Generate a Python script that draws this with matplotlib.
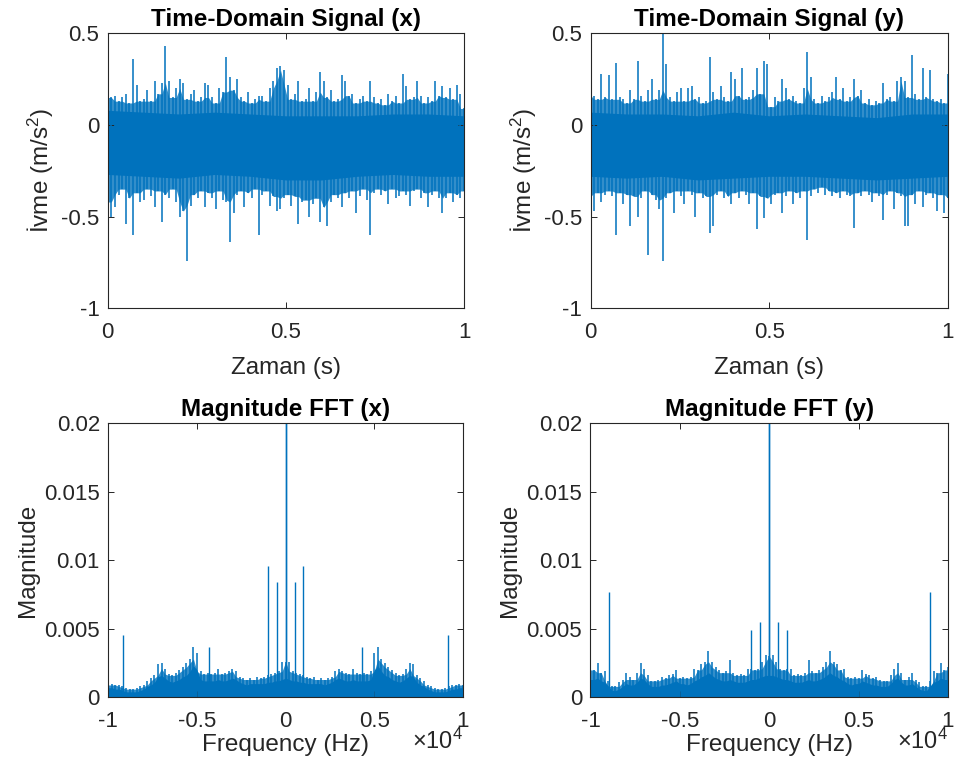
import numpy as np
import matplotlib
matplotlib.use("Agg")
import matplotlib.pyplot as plt

plt.rcParams['font.family'] = ['Liberation Sans', 'DejaVu Sans']
plt.rcParams['mathtext.fontset'] = 'custom'
plt.rcParams['mathtext.rm'] = 'Liberation Sans'
plt.rcParams['mathtext.it'] = 'Liberation Sans:italic'
plt.rcParams['axes.unicode_minus'] = False

BLUE = '#0072BD'
DARK = '#262626'

# Time-domain signal x: upper / lower peak per bin (100 bins over 0..1 s)
tx_hi = [0.22, 0.15, 0.16, 0.13, 0.15, 0.17, 0.12, 0.36, 0.22, 0.13,
         0.14, 0.19, 0.13, 0.24, 0.17, 0.23, 0.43, 0.24, 0.15, 0.20,
         0.25, 0.23, 0.14, 0.17, 0.19, 0.13, 0.15, 0.23, 0.22, 0.15,
         0.12, 0.20, 0.18, 0.37, 0.26, 0.19, 0.25, 0.15, 0.13, 0.18,
         0.12, 0.14, 0.16, 0.16, 0.13, 0.20, 0.24, 0.31, 0.32, 0.30,
         0.22, 0.14, 0.17, 0.24, 0.13, 0.14, 0.20, 0.13, 0.18, 0.29,
         0.24, 0.15, 0.19, 0.13, 0.14, 0.27, 0.24, 0.16, 0.17, 0.12,
         0.14, 0.16, 0.13, 0.24, 0.15, 0.12, 0.14, 0.11, 0.17, 0.13,
         0.16, 0.12, 0.28, 0.21, 0.14, 0.15, 0.24, 0.16, 0.12, 0.15,
         0.13, 0.24, 0.16, 0.21, 0.15, 0.20, 0.14, 0.22, 0.17, 0.09]
tx_lo = [-0.42, -0.50, -0.45, -0.38, -0.35, -0.54, -0.40, -0.60, -0.37, -0.42,
         -0.41, -0.35, -0.39, -0.45, -0.36, -0.53, -0.38, -0.40, -0.35, -0.42,
         -0.50, -0.47, -0.74, -0.44, -0.38, -0.40, -0.36, -0.45, -0.37, -0.40,
         -0.46, -0.36, -0.41, -0.42, -0.64, -0.48, -0.38, -0.36, -0.45, -0.37,
         -0.40, -0.35, -0.60, -0.38, -0.36, -0.44, -0.39, -0.47, -0.46, -0.40,
         -0.38, -0.44, -0.39, -0.54, -0.42, -0.41, -0.50, -0.43, -0.40, -0.53,
         -0.45, -0.55, -0.42, -0.38, -0.40, -0.45, -0.37, -0.40, -0.36, -0.48,
         -0.39, -0.35, -0.41, -0.60, -0.37, -0.35, -0.38, -0.36, -0.43, -0.35,
         -0.40, -0.39, -0.36, -0.38, -0.44, -0.36, -0.35, -0.40, -0.37, -0.45,
         -0.38, -0.36, -0.40, -0.48, -0.40, -0.37, -0.42, -0.38, -0.40, -0.36]
tx_core_hi = [0.08, 0.07, 0.06, 0.07, 0.06, 0.05, 0.05, 0.05, 0.06, 0.06, 0.05]
tx_core_lo = [-0.27, -0.28, -0.29, -0.27, -0.28, -0.30, -0.30, -0.28, -0.27, -0.28, -0.28]

# Time-domain signal y
ty_hi = [0.20, 0.16, 0.14, 0.28, 0.15, 0.27, 0.14, 0.34, 0.15, 0.14,
         0.12, 0.19, 0.14, 0.35, 0.16, 0.13, 0.19, 0.25, 0.14, 0.19,
         0.51, 0.33, 0.15, 0.13, 0.18, 0.20, 0.13, 0.20, 0.21, 0.14,
         0.15, 0.12, 0.13, 0.37, 0.18, 0.14, 0.21, 0.15, 0.13, 0.29,
         0.25, 0.16, 0.31, 0.14, 0.15, 0.19, 0.31, 0.17, 0.35, 0.33,
         0.10, 0.15, 0.13, 0.25, 0.20, 0.14, 0.16, 0.13, 0.12, 0.20,
         0.40, 0.26, 0.14, 0.12, 0.16, 0.13, 0.15, 0.18, 0.26, 0.14,
         0.20, 0.13, 0.15, 0.25, 0.16, 0.19, 0.12, 0.14, 0.11, 0.13,
         0.12, 0.23, 0.14, 0.15, 0.13, 0.24, 0.26, 0.24, 0.15, 0.38,
         0.17, 0.14, 0.31, 0.15, 0.30, 0.14, 0.13, 0.14, 0.12, 0.28]
ty_lo = [-0.39, -0.47, -0.37, -0.42, -0.38, -0.36, -0.39, -0.60, -0.37, -0.43,
         -0.38, -0.55, -0.39, -0.50, -0.40, -0.36, -0.71, -0.38, -0.41, -0.46,
         -0.74, -0.40, -0.37, -0.48, -0.36, -0.39, -0.43, -0.36, -0.38, -0.50,
         -0.37, -0.40, -0.39, -0.59, -0.55, -0.38, -0.36, -0.40, -0.39, -0.43,
         -0.37, -0.40, -0.36, -0.38, -0.43, -0.37, -0.57, -0.39, -0.51, -0.40,
         -0.43, -0.38, -0.37, -0.48, -0.39, -0.36, -0.43, -0.37, -0.40, -0.36,
         -0.63, -0.39, -0.35, -0.37, -0.34, -0.38, -0.36, -0.39, -0.37, -0.40,
         -0.36, -0.38, -0.39, -0.56, -0.37, -0.39, -0.36, -0.38, -0.42, -0.37,
         -0.39, -0.52, -0.38, -0.36, -0.46, -0.37, -0.39, -0.55, -0.55, -0.38,
         -0.43, -0.36, -0.45, -0.38, -0.37, -0.40, -0.47, -0.38, -0.48, -0.40]
ty_core_hi = [0.07, 0.06, 0.06, 0.05, 0.07, 0.05, 0.06, 0.05, 0.04, 0.06, 0.06]
ty_core_lo = [-0.28, -0.29, -0.28, -0.30, -0.29, -0.28, -0.28, -0.29, -0.30, -0.29, -0.28]

# FFT magnitudes, positive half 0..10000 Hz in 200 Hz steps (spectrum is symmetric)
fx_peak = [0.0026, 0.0026, 0.0019, 0.0018, 0.0017, 0.0016, 0.0015, 0.0014, 0.0015, 0.0013,
           0.0014, 0.0013, 0.0014, 0.0015, 0.0019, 0.0021, 0.0019, 0.0018, 0.0017, 0.0021,
           0.0018, 0.0017, 0.0018, 0.0017, 0.0019, 0.0032, 0.0037, 0.0028, 0.0025, 0.0022,
           0.0020, 0.0018, 0.0016, 0.0017, 0.0021, 0.0025, 0.0024, 0.0016, 0.0014, 0.0012,
           0.0009, 0.0008, 0.0007, 0.0006, 0.0006, 0.0007, 0.0008, 0.0009, 0.0009, 0.0010,
           0.0009]
fx_floor = [0.0014, 0.0013, 0.0012, 0.0012, 0.0011, 0.0011, 0.0010, 0.0010, 0.0010, 0.0010,
            0.0010, 0.0009, 0.0010, 0.0011, 0.0013, 0.0014, 0.0013, 0.0012, 0.0012, 0.0013,
            0.0012, 0.0012, 0.0012, 0.0012, 0.0013, 0.0020, 0.0023, 0.0019, 0.0016, 0.0015,
            0.0013, 0.0012, 0.0011, 0.0012, 0.0014, 0.0016, 0.0015, 0.0011, 0.0009, 0.0008,
            0.0006, 0.0005, 0.0004, 0.0004, 0.0004, 0.0004, 0.0005, 0.0006, 0.0006, 0.0007,
            0.0007]
fx_spike_f = [0, 500, 1000, 4300, 9150]
fx_spike_m = [0.03, 0.0084, 0.0096, 0.00365, 0.00455]

fy_peak = [0.0030, 0.0031, 0.0026, 0.0021, 0.0020, 0.0021, 0.0021, 0.0016, 0.0017, 0.0016,
           0.0018, 0.0027, 0.0019, 0.0018, 0.0020, 0.0022, 0.0026, 0.0034, 0.0026, 0.0024,
           0.0020, 0.0021, 0.0015, 0.0014, 0.0015, 0.0014, 0.0020, 0.0017, 0.0016, 0.0014,
           0.0015, 0.0013, 0.0012, 0.0012, 0.0016, 0.0021, 0.0025, 0.0018, 0.0013, 0.0015,
           0.0018, 0.0013, 0.0011, 0.0008, 0.0008, 0.0012, 0.0019, 0.0018, 0.0025, 0.0020,
           0.0022]
fy_floor = [0.0016, 0.0016, 0.0015, 0.0014, 0.0013, 0.0013, 0.0012, 0.0011, 0.0011, 0.0011,
            0.0012, 0.0013, 0.0012, 0.0012, 0.0013, 0.0014, 0.0016, 0.0018, 0.0016, 0.0015,
            0.0013, 0.0012, 0.0010, 0.0009, 0.0010, 0.0010, 0.0012, 0.0011, 0.0010, 0.0009,
            0.0009, 0.0008, 0.0008, 0.0008, 0.0010, 0.0013, 0.0014, 0.0011, 0.0009, 0.0009,
            0.0010, 0.0008, 0.0006, 0.0005, 0.0005, 0.0008, 0.0011, 0.0012, 0.0014, 0.0013,
            0.0013]
fy_spike_f = [0, 500, 1000, 8970]
fy_spike_m = [0.03, 0.0055, 0.0049, 0.0077]


def roll3(a, fn):
  # smallest (or largest) of each value and its two neighbours
  a = np.asarray(a, dtype=float)
  left = np.concatenate([a[:1], a[:-1]])
  right = np.concatenate([a[1:], a[-1:]])
  return fn(fn(left, a), right)


def style(ax):
  ax.tick_params(direction='in', top=True, right=True, length=4, width=0.7,
                 color=DARK, labelcolor=DARK, labelsize=16, pad=6)
  ax.tick_params(axis='x', pad=10)
  for s in ax.spines.values():
    s.set_color(DARK)
    s.set_linewidth(0.8)


def draw_time(ax, hi, lo, core_hi, core_lo, title):
  t = np.linspace(0, 1, len(hi))
  tc = np.linspace(0, 1, len(core_hi))
  # dense part of the trace, then the loose fringe, then single excursions
  ax.fill_between(tc, core_lo, core_hi, color=BLUE, lw=0)
  ax.fill_between(t, roll3(lo, np.maximum), roll3(hi, np.minimum), color=BLUE,
                  alpha=0.8, lw=0)
  ax.vlines(t, lo, hi, color=BLUE, lw=1.1)
  ax.set_xlim(0, 1)
  ax.set_ylim(-1, 0.5)
  ax.set_xticks([0, 0.5, 1], ['0', '0.5', '1'])
  ax.set_yticks([-1, -0.5, 0, 0.5], ['-1', '-0.5', '0', '0.5'])
  ax.set_title(title, fontsize=17.5, fontweight='bold', pad=5)
  ax.set_xlabel('Zaman (s)', fontsize=17.5, color=DARK, labelpad=10)
  ax.set_ylabel('İvme (m/s$^2$)', fontsize=17.5, color=DARK, labelpad=4)
  style(ax)


def draw_fft(ax, peak, floor, sp_f, sp_m, title):
  f_half = np.linspace(0, 10000, len(peak))
  f = np.concatenate([-f_half[:0:-1], f_half])
  pk = np.concatenate([peak[:0:-1], peak])
  fl = np.concatenate([floor[:0:-1], floor])
  ax.fill_between(f, 0, fl, color=BLUE, lw=0)
  ax.fill_between(f, 0, roll3(pk, np.minimum), color=BLUE, alpha=0.8, lw=0)
  ax.vlines(f, 0, pk, color=BLUE, lw=1.1)
  sf = np.array(sp_f)
  ax.vlines(np.concatenate([-sf, sf]), 0, sp_m + sp_m, color=BLUE, lw=1.0)
  ax.set_xlim(-10000, 10000)
  ax.set_ylim(0, 0.02)
  ax.set_xticks([-10000, -5000, 0, 5000, 10000], ['-1', '-0.5', '0', '0.5', '1'])
  ax.set_yticks([0, 0.005, 0.01, 0.015, 0.02], ['0', '0.005', '0.01', '0.015', '0.02'])
  ax.set_title(title, fontsize=17.5, fontweight='bold', pad=5)
  ax.set_xlabel('Frequency (Hz)', fontsize=17.5, color=DARK, labelpad=1)
  ax.set_ylabel('Magnitude', fontsize=17.5, color=DARK, labelpad=4)
  ax.text(1.0, -0.162, r'$\times10^{4}$', transform=ax.transAxes, ha='right',
          va='center', fontsize=17, color=DARK)
  style(ax)


fig = plt.figure(figsize=(9.55, 7.78), dpi=100)
ax1 = fig.add_axes([0.1128, 0.6037, 0.3731, 0.3535])
ax2 = fig.add_axes([0.6185, 0.6037, 0.3741, 0.3535])
ax3 = fig.add_axes([0.1134, 0.1037, 0.3714, 0.3522])
ax4 = fig.add_axes([0.6183, 0.1037, 0.3743, 0.3522])

draw_time(ax1, tx_hi, tx_lo, tx_core_hi, tx_core_lo, 'Time-Domain Signal (x)')
draw_time(ax2, ty_hi, ty_lo, ty_core_hi, ty_core_lo, 'Time-Domain Signal (y)')
draw_fft(ax3, fx_peak, fx_floor, fx_spike_f, fx_spike_m, 'Magnitude FFT (x)')
draw_fft(ax4, fy_peak, fy_floor, fy_spike_f, fy_spike_m, 'Magnitude FFT (y)')

fig.savefig('out.png', dpi=100)
